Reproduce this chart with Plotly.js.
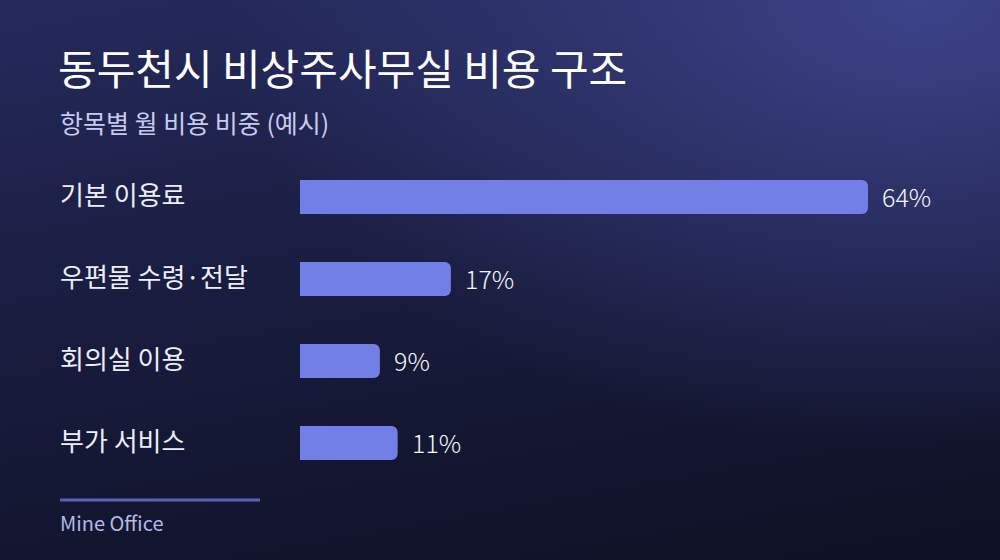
<!DOCTYPE html>
<html>
<head>
<meta charset="utf-8">
<script src="https://cdn.plot.ly/plotly-3.0.1.min.js"></script>
<style>
  html, body { margin: 0; padding: 0; }
  body {
    width: 1000px; height: 560px; overflow: hidden;
    background:
      radial-gradient(ellipse 70% 80% at 92% 0%, rgba(62,68,140,0.95) 0%, rgba(62,68,140,0) 100%),
      linear-gradient(170deg, #252a5c 0%, #181b3c 50%, #0e1023 100%);
  }
  #chart { width: 1000px; height: 560px; }
</style>
</head>
<body>
<div id="chart"></div>
<script>
var categories = ['기본 이용료', '우편물 수령·전달', '회의실 이용', '부가 서비스'];
var shares = [64, 17, 9, 11];
var valueLabels = ['64%', '17%', '9%', '11%'];

var font = '"Noto Sans CJK KR", "Noto Sans", sans-serif';
var leftX = (60 - 300) / 568;

var trace = {
  type: 'bar',
  orientation: 'h',
  x: shares,
  y: categories,
  width: 0.415,
  marker: { color: '#727fe6', cornerradius: 6 },
  hoverinfo: 'none'
};

var annotations = [];
categories.forEach(function (c, i) {
  annotations.push({
    xref: 'paper', yref: 'y',
    x: leftX, y: c,
    xanchor: 'left', yanchor: 'middle', yshift: 4, xshift: -2,
    text: c, showarrow: false,
    font: { family: font, size: 26, color: '#eceef8', weight: 400 }
  });
  annotations.push({
    xref: 'x', yref: 'y',
    x: shares[i], y: c,
    xanchor: 'left', yanchor: 'middle', xshift: 12, yshift: 1,
    text: valueLabels[i], showarrow: false,
    font: { family: font, size: 25, color: '#f6f7fc', weight: 300 }
  });
});
annotations.push({
  xref: 'paper', yref: 'paper',
  x: leftX, y: (484 - 122) / 328,
  xanchor: 'left', yanchor: 'middle', xshift: -2,
  text: '항목별 월 비용 비중 (예시)', showarrow: false,
  font: { family: font, size: 25, color: '#c8cbf0', weight: 400 }
});
annotations.push({
  xref: 'paper', yref: 'paper',
  x: leftX, y: (484 - 522) / 328,
  xanchor: 'left', yanchor: 'middle', xshift: -2,
  text: 'Mine Office', showarrow: false,
  font: { family: font, size: 20, color: '#b4b9e6' }
});

var layout = {
  width: 1000, height: 560,
  margin: { l: 300, r: 132, t: 156, b: 76 },
  paper_bgcolor: 'rgba(0,0,0,0)',
  plot_bgcolor: 'rgba(0,0,0,0)',
  showlegend: false,
  title: {
    text: '동두천시 비상주사무실 비용 구조',
    x: 0.058, xanchor: 'left', xref: 'container',
    y: 1 - 70 / 560, yanchor: 'middle', yref: 'container',
    font: { family: font, size: 42, color: '#ffffff', weight: 400 }
  },
  xaxis: { range: [0, 64], visible: false, fixedrange: true },
  yaxis: { autorange: 'reversed', visible: false, fixedrange: true },
  annotations: annotations,
  shapes: [{
    type: 'line', xref: 'paper', yref: 'paper',
    x0: leftX, x1: (260 - 300) / 568,
    y0: (484 - 500) / 328, y1: (484 - 500) / 328,
    line: { color: '#5a60b8', width: 3 }
  }]
};

Plotly.newPlot('chart', [trace], layout, { displayModeBar: false, staticPlot: true });
</script>
</body>
</html>
